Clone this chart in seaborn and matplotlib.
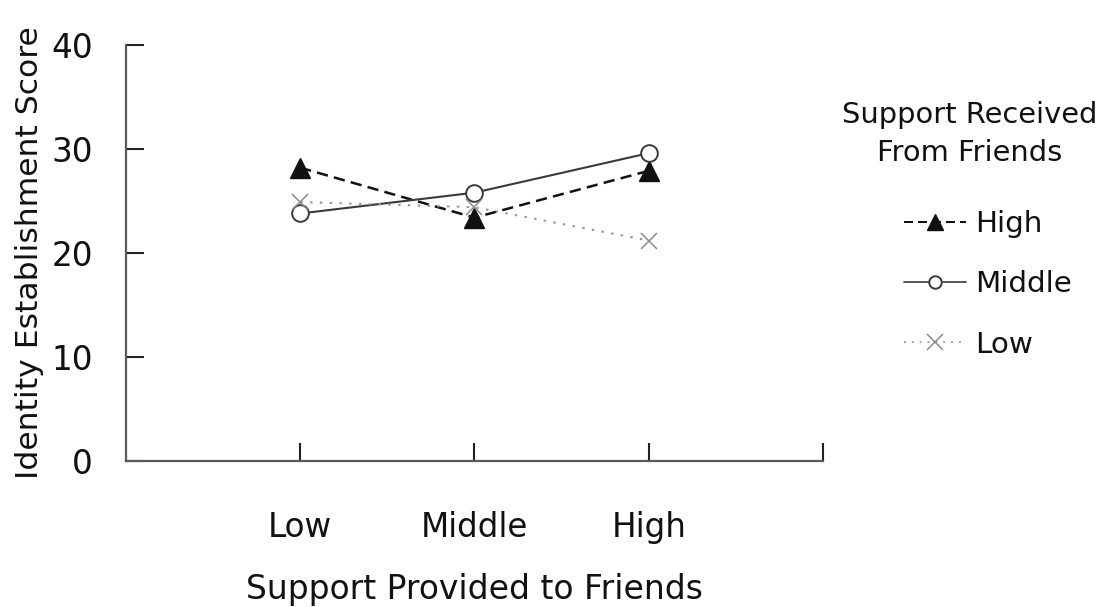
import matplotlib
matplotlib.use("Agg")
import matplotlib.pyplot as plt
import seaborn as sns
import pandas as pd
from matplotlib.lines import Line2D

categories = ["Low", "Middle", "High"]
high_vals = [28.2, 23.4, 27.9]
middle_vals = [23.8, 25.8, 29.6]
low_vals = [24.9, 24.4, 21.2]
series_names = ["High", "Middle", "Low"]
yticks = [0, 10, 20, 30, 40]

sns.set_theme(style="white")
plt.rcParams['font.family'] = ['DejaVu Sans']

rows = []
for name, vals in zip(series_names, [high_vals, middle_vals, low_vals]):
    for i, (c, v) in enumerate(zip(categories, vals)):
        rows.append({"pos": i + 1, "cat": c, "score": v, "series": name})
df = pd.DataFrame(rows)

fig = plt.figure(figsize=(11.13, 6.07), dpi=100)
ax = fig.add_axes([0.1132, 0.2405, 0.6262, 0.6854])

styles = {
    "High": dict(color="#111111", linestyle=(0, (4.5, 2.5)), lw=1.8, marker="^", ms=15,
                 mfc="#111111", mec="#111111", mew=1.0, lms=12),
    "Middle": dict(color="#3a3a3a", linestyle="-", lw=1.5, marker="o", ms=12,
                   mfc="white", mec="#3a3a3a", mew=1.4, lms=9),
    "Low": dict(color="#9a9a9a", linestyle=(0, (1.2, 3.5)), lw=1.5, marker="x", ms=12,
                mfc="#9a9a9a", mec="#8a8a8a", mew=1.1, lms=11),
}

for name in series_names:
    sub = df[df["series"] == name]
    st = styles[name]
    sns.lineplot(data=sub, x="pos", y="score", ax=ax, color=st["color"],
                 linestyle=st["linestyle"], lw=st["lw"], marker=st["marker"],
                 markersize=st["ms"], markerfacecolor=st["mfc"],
                 markeredgecolor=st["mec"], markeredgewidth=st["mew"],
                 legend=False, zorder=3)

ax.set_xlim(0, 4)
ax.set_ylim(0, 40)
ax.set_xticks([1, 2, 3, 4])
ax.set_xticklabels(categories + [""])
ax.set_yticks(yticks)
ax.set_yticklabels([str(t) for t in yticks])
ax.tick_params(axis="both", direction="in", length=13, width=1.5, color="#222222",
               labelsize=23.5, labelcolor="#111111")
ax.tick_params(axis="x", pad=36)
ax.tick_params(axis="y", pad=24)
ax.tick_params(left=True, bottom=True)

for s in ["top", "right"]:
    ax.spines[s].set_visible(False)
for s in ["left", "bottom"]:
    ax.spines[s].set_color("#5a5a5a")
    ax.spines[s].set_linewidth(1.6)

ax.set_xlabel("Support Provided to Friends", fontsize=23.8, color="#111111", labelpad=21)
ax.set_ylabel("Identity Establishment Score", fontsize=22.6, color="#111111")
ax.yaxis.set_label_coords(-0.118, 0.5)

handles = []
for name in series_names:
    st = styles[name]
    handles.append(Line2D([0], [0], color=st["color"], linestyle=st["linestyle"], lw=st["lw"] * 0.8,
                          marker=st["marker"], markersize=st["lms"],
                          markerfacecolor=st["mfc"], markeredgecolor=st["mec"],
                          markeredgewidth=st["mew"]))
fig.text(970 / 1113, 1 - 134 / 607, "Support Received\nFrom Friends", ha="center", va="center",
         fontsize=20.8, color="#111111", linespacing=1.45)
leg = fig.legend(handles, series_names, loc="upper left",
                 bbox_to_anchor=(904 / 1113, 1 - 210 / 607), frameon=False,
                 fontsize=21.2, handlelength=2.1, labelspacing=1.1,
                 handletextpad=0.3, borderpad=0, borderaxespad=0)
for t in leg.get_texts():
    t.set_color("#111111")

fig.savefig("out.png", dpi=100)
